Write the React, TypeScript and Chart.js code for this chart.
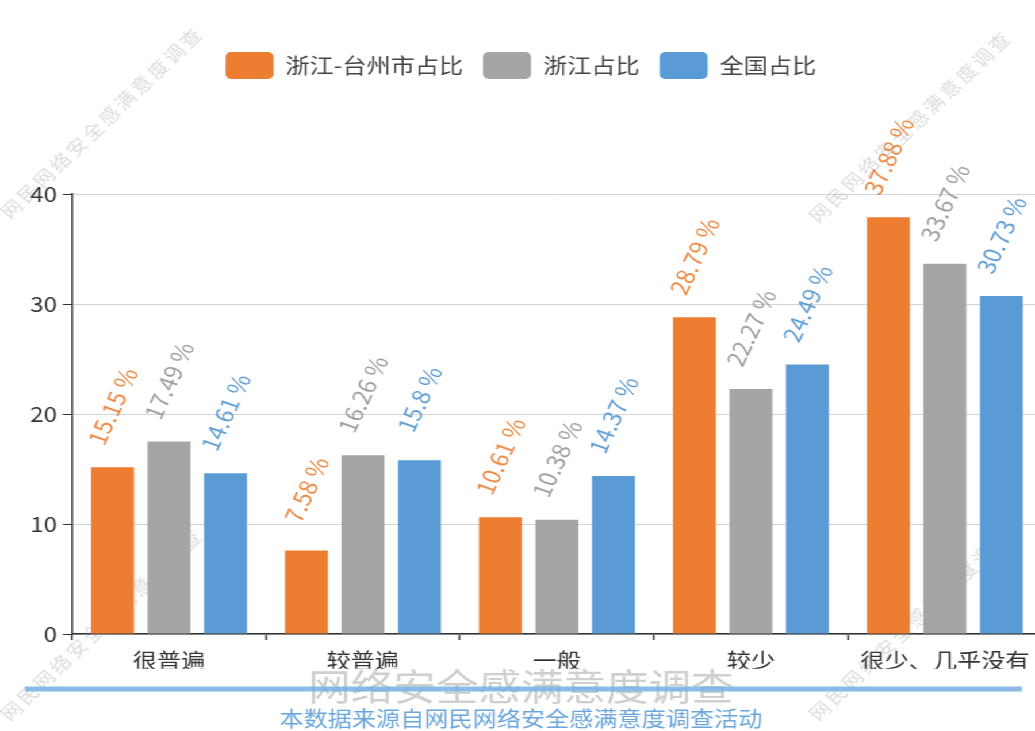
import React, { useEffect, useRef } from 'react';
import { Chart, registerables } from 'chart.js';

Chart.register(...registerables);

// ---- data ----
const categories = ['很普遍', '较普遍', '一般', '较少', '很少、几乎没有'];
const seriesNames = ['浙江-台州市占比', '浙江占比', '全国占比'];
const taizhouShare = [15.15, 7.58, 10.61, 28.79, 37.88];
const zhejiangShare = [17.49, 16.26, 10.38, 22.27, 33.67];
const nationalShare = [14.61, 15.8, 14.37, 24.49, 30.73];
const yMin = 0;
const yMax = 40;
const yStep = 10;
const titleText = '网络安全感满意度调查';
const subtitleText = '本数据来源自网民网络安全感满意度调查活动';
const watermarkText = '网民网络安全感满意度调查';
const labelSuffix = ' %';

// ---- styles ----
const seriesColors = ['#ED7D31', '#A5A5A5', '#5B9BD5'];
const labelColors = ['rgba(237,125,49,0.9)', 'rgba(150,150,150,0.9)', 'rgba(91,155,213,0.95)'];
const FONT = "'Noto Sans CJK SC', 'Noto Sans', sans-serif";
const STRETCH = 1.15;
const W = 913;
const H = 731;
const LABEL_ANGLE = 68;
const LABEL_OFFSET = 61;

const legendSpacer = {
  id: 'legendSpacer',
  beforeInit(chart: any) {
    const legend = chart.legend;
    if (!legend) return;
    const orig = legend.fit;
    legend.fit = function () {
      orig.call(this);
      this.height = 194 - 34.6;
    };
  },
};

const watermarkPlugin = {
  id: 'watermarks',
  beforeDatasetsDraw(chart: any) {
    const ctx = chart.ctx;
    const spots = [
      [9, 220],
      [712, 224],
      [9, 722],
      [712, 722],
    ];
    ctx.save();
    ctx.font = `18px ${FONT}`;
    (ctx as any).letterSpacing = '3px';
    ctx.fillStyle = 'rgba(140,140,140,0.3)';
    ctx.textAlign = 'left';
    ctx.textBaseline = 'alphabetic';
    for (const [x, y] of spots) {
      ctx.save();
      ctx.translate(x, y);
      ctx.rotate((-47.6 * Math.PI) / 180);
      ctx.fillText(watermarkText, 0, 0);
      ctx.restore();
    }
    ctx.restore();
  },
};

const rotatedLabels = {
  id: 'rotatedLabels',
  afterDatasetsDraw(chart: any) {
    const ctx = chart.ctx;
    ctx.save();
    ctx.font = `22px ${FONT}`;
    ctx.textAlign = 'center';
    ctx.textBaseline = 'middle';
    chart.data.datasets.forEach((ds: any, di: number) => {
      const meta = chart.getDatasetMeta(di);
      meta.data.forEach((bar: any, i: number) => {
        const { x, y } = bar.getProps(['x', 'y'], true);
        ctx.save();
        ctx.translate(x, y - LABEL_OFFSET);
        ctx.rotate((-LABEL_ANGLE * Math.PI) / 180);
        ctx.fillStyle = labelColors[di];
        ctx.fillText(`${ds.data[i]}${labelSuffix}`, 0, 0);
        ctx.restore();
      });
    });
    ctx.restore();
  },
};

const bottomLine = {
  id: 'bottomLine',
  afterDraw(chart: any) {
    const ctx = chart.ctx;
    ctx.save();
    ctx.strokeStyle = 'rgba(120,175,228,0.85)';
    ctx.lineWidth = 5;
    ctx.lineCap = 'butt';
    ctx.beginPath();
    ctx.moveTo(21.7, 689);
    ctx.lineTo(888.7, 689);
    ctx.stroke();
    ctx.restore();
  },
};

export default function App() {
  const canvasRef = useRef<HTMLCanvasElement | null>(null);

  useEffect(() => {
    if (!canvasRef.current) return;
    const datasets = [taizhouShare, zhejiangShare, nationalShare].map((d, i) => ({
      label: seriesNames[i],
      data: d,
      backgroundColor: seriesColors[i],
      borderWidth: 0,
      categoryPercentage: 0.874,
      barPercentage: 0.76,
    }));
    const chart = new Chart(canvasRef.current, {
      type: 'bar',
      data: { labels: categories, datasets },
      options: {
        animation: false,
        responsive: true,
        maintainAspectRatio: false,
        layout: { padding: { top: 34.6, left: 0, right: 7, bottom: 0 } },
        plugins: {
          legend: {
            position: 'top',
            labels: {
              boxWidth: 41.7,
              boxHeight: 27,
              useBorderRadius: true,
              borderRadius: 5,
              padding: 17.4,
              color: '#444',
              font: { size: 21, family: FONT },
            },
          },
          title: {
            display: true,
            position: 'bottom',
            text: titleText,
            color: '#cfcfcf',
            font: { size: 37, family: FONT, weight: 'normal', lineHeight: 1 },
            padding: 0,
            weight: 1000,
          },
          subtitle: {
            display: true,
            position: 'bottom',
            text: subtitleText,
            color: '#6aa6dc',
            font: { size: 21, family: FONT, lineHeight: 1.2 },
            padding: 0,
            weight: 2000,
          },
          tooltip: { enabled: false },
        },
        scales: {
          x: {
            grid: {
              offset: true,
              drawOnChartArea: false,
              tickLength: 6,
              tickColor: '#333',
              tickWidth: 1.5,
            },
            border: { color: '#333', width: 1.5 },
            ticks: {
              color: '#333',
              font: { size: 21, family: FONT },
              padding: 7,
              maxRotation: 0,
              autoSkip: false,
            },
            afterFit: (s: any) => {
              s.height = 34.8;
            },
          },
          y: {
            min: yMin,
            max: yMax,
            ticks: {
              stepSize: yStep,
              color: '#333',
              font: { size: 21, family: FONT },
              padding: 5,
            },
            grid: { color: '#d4d4d4', tickLength: 8, tickColor: '#333', lineWidth: 1 },
            border: { color: '#333', width: 1.5 },
            afterFit: (s: any) => {
              s.width = 62.6;
            },
          },
        },
      },
      plugins: [legendSpacer, watermarkPlugin, rotatedLabels, bottomLine],
    } as any);
    return () => chart.destroy();
  }, []);

  return (
    <div
      style={{
        position: 'fixed',
        left: 0,
        top: 0,
        width: W,
        height: H,
        transform: `scaleX(${STRETCH})`,
        transformOrigin: '0 0',
        background: '#fff',
      }}
    >
      <canvas ref={canvasRef} />
    </div>
  );
}
